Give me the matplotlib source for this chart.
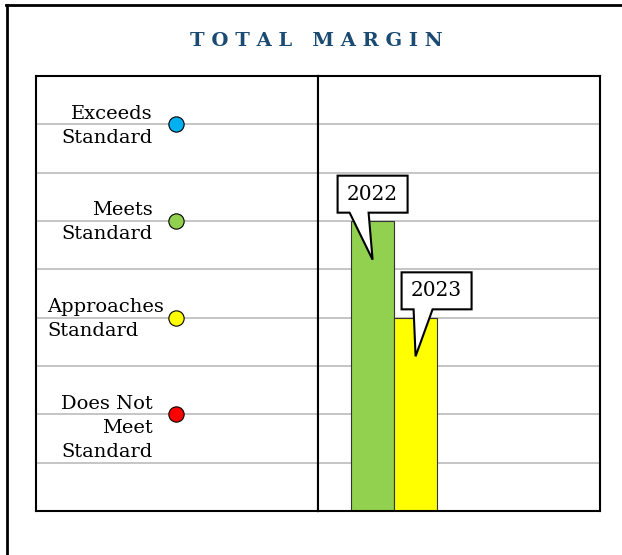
import matplotlib
matplotlib.use('Agg')
import matplotlib.pyplot as plt
from matplotlib.patches import Polygon
from matplotlib.lines import Line2D

# Data
levels = ['Exceeds\nStandard', 'Meets\nStandard', 'Approaches\nStandard', 'Does Not\nMeet\nStandard']
level_values = [8, 6, 4, 2]
level_colors = ['#00B0F0', '#92D050', '#FFFF00', '#FF0000']

years = ['2022', '2023']
year_values = [6, 4]
year_colors = ['#92D050', '#FFFF00']

W, H = 622, 555
fig = plt.figure(figsize=(W / 100, H / 100), dpi=100)
serif = ['DejaVu Serif']

# outer frame (left and top edges only visible)
fig.add_artist(Line2D([6.5 / W, 6.5 / W], [0, 1 - 5 / H], color='black', lw=2, transform=fig.transFigure))
fig.add_artist(Line2D([5.5 / W, 1], [1 - 5 / H, 1 - 5 / H], color='black', lw=2, transform=fig.transFigure))

fig.text(316 / W, 1 - 41 / H, 'T O T A L   M A R G I N', ha='center', va='center',
         fontsize=14, fontweight='bold', color='#1B4A72', family=serif)

bottom = (H - 511) / H
height = 435 / H
ax_l = fig.add_axes([36 / W, bottom, 282 / W, height])
ax_r = fig.add_axes([318 / W, bottom, 282 / W, height])

for ax in (ax_l, ax_r):
    ax.set_ylim(0, 9)
    ax.set_yticks(range(1, 9))
    ax.grid(axis='y', color='#C0C0C0', lw=1.3)
    ax.set_axisbelow(True)
    ax.tick_params(length=0, labelleft=False, labelbottom=False)
    ax.set_xticks([])
    for s in ax.spines.values():
        s.set_linewidth(1.5)

# Left panel: standard levels
ax_l.set_xlim(0, 1)
for lab, v, c in zip(levels, level_values, level_colors):
    ax_l.plot(0.497, v, 'o', ms=11, mfc=c, mec='black', mew=0.8, zorder=3)
    if lab.startswith('Approaches'):
        ax_l.text(0.039, v + 0.41, lab, ha='left', va='top', fontsize=14, family=serif, linespacing=1.45)
    else:
        ax_l.text(0.415, v + 0.41, lab, ha='right', va='top', fontsize=14, family=serif,
                  multialignment='right', linespacing=1.45)

# Right panel: bars
ax_r.set_xlim(-1.27, 5.29)
xs = list(range(len(years)))
ax_r.bar(xs, year_values, width=1, color=year_colors, edgecolor='#333333', lw=0.8, zorder=2)

fig.canvas.draw()


def callout(ax, x, y, text, box_left):
    tx, ty = ax.transData.transform((x, y))
    L, R = box_left, box_left + 70
    B, T = 47, 84
    p1, p2 = box_left + 12, box_left + 31
    pts = [(0, 0), (p2, B), (R, B), (R, T), (L, T), (L, B), (p1, B)]
    pts = [(tx + px, ty + py) for px, py in pts]
    poly = Polygon(pts, closed=True, fc='white', ec='black', lw=1.5, transform=None, zorder=5)
    fig.add_artist(poly)
    fig.text((tx + L + 35) / W, (ty + (B + T) / 2) / H, text, ha='center', va='center',
             fontsize=14.5, family=serif, zorder=6)


box_lefts = [-35, -14]
for x, v, yr, bl in zip(xs, year_values, years, box_lefts):
    callout(ax_r, x, v - 0.8, yr, bl)

fig.savefig('out.png', dpi=100)
